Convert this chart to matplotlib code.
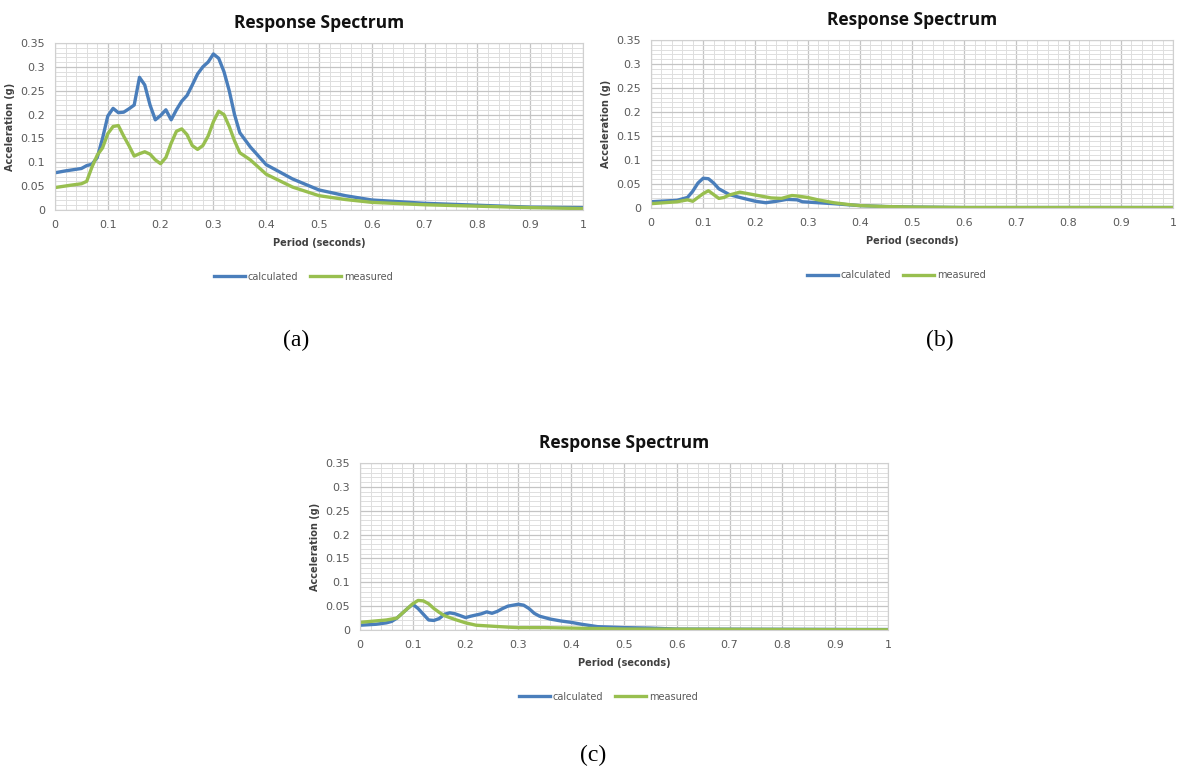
import matplotlib
matplotlib.use('Agg')

import matplotlib.pyplot as plt
import matplotlib.ticker as mticker

# panel (a)
a_calc_t = [0, 0.02, 0.05, 0.06, 0.07, 0.08, 0.09, 0.1, 0.11, 0.12, 0.13, 0.14, 0.15,
            0.16, 0.17, 0.18, 0.19, 0.2, 0.21, 0.22, 0.23, 0.24, 0.25, 0.26, 0.27, 0.28,
            0.29, 0.3, 0.31, 0.32, 0.33, 0.34, 0.35, 0.37, 0.4, 0.45, 0.5, 0.55, 0.6,
            0.7, 0.8, 0.9, 1.0]
a_calc = [0.078, 0.082, 0.087, 0.093, 0.096, 0.11, 0.15, 0.197, 0.213, 0.204, 0.205, 0.212, 0.22,
          0.278, 0.262, 0.22, 0.189, 0.198, 0.21, 0.189, 0.21, 0.228, 0.24, 0.262, 0.285, 0.3,
          0.31, 0.327, 0.318, 0.29, 0.25, 0.2, 0.162, 0.132, 0.095, 0.065, 0.042, 0.03, 0.021,
          0.014, 0.01, 0.006, 0.005]
a_meas_t = [0, 0.03, 0.05, 0.06, 0.07, 0.08, 0.09, 0.1, 0.11, 0.12, 0.13, 0.14, 0.15,
            0.16, 0.17, 0.18, 0.19, 0.2, 0.21, 0.22, 0.23, 0.24, 0.25, 0.26, 0.27, 0.28,
            0.29, 0.3, 0.31, 0.32, 0.33, 0.34, 0.35, 0.37, 0.4, 0.45, 0.5, 0.55, 0.6,
            0.7, 0.8, 0.9, 1.0]
a_meas = [0.047, 0.052, 0.055, 0.06, 0.09, 0.115, 0.13, 0.16, 0.175, 0.177, 0.155, 0.135, 0.113,
          0.118, 0.122, 0.117, 0.105, 0.097, 0.11, 0.14, 0.165, 0.17, 0.158, 0.135, 0.127, 0.135,
          0.155, 0.185, 0.207, 0.2, 0.175, 0.145, 0.12, 0.105, 0.075, 0.048, 0.03, 0.022, 0.016,
          0.011, 0.008, 0.005, 0.003]

# panel (b)
b_calc_t = [0, 0.05, 0.07, 0.08, 0.09, 0.1, 0.11, 0.12, 0.13, 0.15, 0.17, 0.2, 0.22,
            0.24, 0.26, 0.28, 0.29, 0.32, 0.35, 0.4, 0.45, 0.5, 0.6, 1.0]
b_calc = [0.013, 0.016, 0.022, 0.035, 0.052, 0.062, 0.061, 0.052, 0.04, 0.028, 0.022, 0.014, 0.011,
          0.014, 0.018, 0.017, 0.013, 0.011, 0.009, 0.005, 0.003, 0.002, 0.001, 0.001]
b_meas_t = [0, 0.05, 0.07, 0.08, 0.09, 0.1, 0.11, 0.12, 0.13, 0.14, 0.15, 0.16, 0.17,
            0.19, 0.21, 0.23, 0.25, 0.27, 0.28, 0.3, 0.32, 0.35, 0.38, 0.4, 0.45, 0.5, 0.6, 1.0]
b_meas = [0.009, 0.013, 0.017, 0.014, 0.022, 0.03, 0.036, 0.028, 0.02, 0.022, 0.027, 0.03, 0.033,
          0.029, 0.025, 0.021, 0.02, 0.026, 0.025, 0.022, 0.017, 0.011, 0.007, 0.005, 0.003, 0.002,
          0.001, 0.001]

# panel (c)
c_calc_t = [0, 0.03, 0.05, 0.06, 0.07, 0.09, 0.1, 0.11, 0.12, 0.13, 0.14, 0.15, 0.16,
            0.17, 0.18, 0.2, 0.21, 0.23, 0.24, 0.25, 0.26, 0.27, 0.28, 0.3, 0.31, 0.32,
            0.33, 0.34, 0.36, 0.38, 0.4, 0.42, 0.45, 0.5, 0.55, 0.6, 1.0]
c_calc = [0.01, 0.012, 0.015, 0.018, 0.025, 0.045, 0.054, 0.045, 0.033, 0.021, 0.02, 0.024, 0.033,
          0.036, 0.034, 0.026, 0.029, 0.034, 0.038, 0.035, 0.039, 0.045, 0.05, 0.054, 0.052, 0.045,
          0.035, 0.029, 0.023, 0.019, 0.016, 0.012, 0.007, 0.005, 0.004, 0.002, 0.001]
c_meas_t = [0, 0.03, 0.05, 0.06, 0.07, 0.08, 0.09, 0.1, 0.11, 0.12, 0.13, 0.14, 0.15,
            0.16, 0.18, 0.2, 0.22, 0.25, 0.28, 0.3, 0.35, 0.4, 0.45, 0.5, 1.0]
c_meas = [0.016, 0.019, 0.021, 0.023, 0.025, 0.035, 0.045, 0.055, 0.062, 0.061, 0.055, 0.045, 0.037,
          0.03, 0.022, 0.015, 0.01, 0.008, 0.006, 0.005, 0.005, 0.004, 0.003, 0.002, 0.0005]

x_ticks = [0, 0.1, 0.2, 0.3, 0.4, 0.5, 0.6, 0.7, 0.8, 0.9, 1]
y_ticks = [0, 0.05, 0.1, 0.15, 0.2, 0.25, 0.3, 0.35]

BLUE = '#4a7ebb'
GREEN = '#98bf4f'
W, H = 1180, 772

fig = plt.figure(figsize=(W / 100, H / 100), dpi=100)


def box(l, t, r, b):
    # pixel box -> figure fraction
    return [l / W, 1 - b / H, (r - l) / W, (b - t) / H]


def fmt(v, pos):
    return f'{v:.2f}'.rstrip('0').rstrip('.')


def panel(rect, calc_t, calc, meas_t, meas, tag, tag_xy):
    ax = fig.add_axes(box(*rect))
    ax.plot(calc_t, calc, color=BLUE, lw=2.4, label='calculated', solid_joinstyle='round')
    ax.plot(meas_t, meas, color=GREEN, lw=2.4, label='measured', solid_joinstyle='round')
    ax.set_xlim(0, 1)
    ax.set_ylim(0, 0.35)
    ax.set_xticks(x_ticks)
    ax.set_yticks(y_ticks)
    ax.xaxis.set_minor_locator(mticker.MultipleLocator(0.02))
    ax.yaxis.set_minor_locator(mticker.MultipleLocator(0.01))
    ax.xaxis.set_major_formatter(mticker.FuncFormatter(fmt))
    ax.yaxis.set_major_formatter(mticker.FuncFormatter(fmt))
    ax.grid(which='major', color='#c4c4c4', lw=0.9)
    ax.grid(which='minor', color='#dedede', lw=0.7)
    ax.set_axisbelow(True)
    ax.tick_params(which='both', length=0, labelsize=8, labelcolor='#595959', pad=7)
    for sp in ax.spines.values():
        sp.set_color('#d0d0d0')
    ax.set_xlabel('Period (seconds)', fontsize=7, fontweight='bold', color='#404040', labelpad=6)
    ax.set_ylabel('Acceleration (g)', fontsize=7, fontweight='bold', color='#404040', labelpad=4)
    ax.set_title('Response Spectrum', fontsize=12.5, fontweight='bold', family='Open Sans',
                 color='#111111', pad=11)
    ax.legend(loc='center', bbox_to_anchor=(0.47, -0.4), ncol=2, frameon=False,
              fontsize=7, handlelength=3.2, columnspacing=1.2, handletextpad=0.3,
              labelcolor='#595959')
    fig.text(tag_xy[0] / W, 1 - tag_xy[1] / H, tag, family='Liberation Serif', fontsize=17,
             ha='center', va='center')
    return ax


panel((55, 43, 583, 210), a_calc_t, a_calc, a_meas_t, a_meas, '(a)', (296, 340))
panel((651, 40, 1173, 208), b_calc_t, b_calc, b_meas_t, b_meas, '(b)', (940, 340))
panel((360, 463, 888, 630), c_calc_t, c_calc, c_meas_t, c_meas, '(c)', (593, 755))

plt.savefig('out.png', dpi=100)
